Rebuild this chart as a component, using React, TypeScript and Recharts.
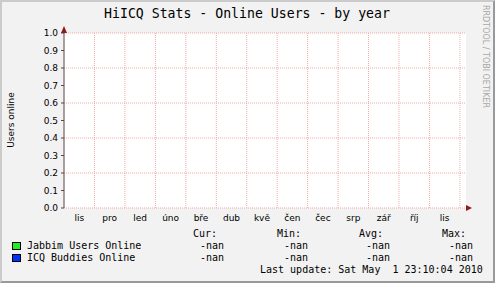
import { LineChart, Line, XAxis, YAxis, CartesianGrid, ReferenceLine } from 'recharts'

const monthLabels = ['lis', 'pro', 'led', 'úno', 'bře', 'dub', 'kvě', 'čen', 'čec', 'srp', 'zář', 'říj', 'lis']
const monthBounds = [1, 2, 3, 4, 5, 6, 7, 8, 9, 10, 11, 12, 13]
const yTicks = [0, 0.1, 0.2, 0.3, 0.4, 0.5, 0.6, 0.7, 0.8, 0.9, 1.0]

// no samples in the rrd -> every point is NaN
const jabbimUsers: (number | null)[] = [null, null, null, null, null, null, null, null, null, null, null, null, null]
const icqBuddies: (number | null)[] = [null, null, null, null, null, null, null, null, null, null, null, null, null]

const statHeaders = ['Cur:', 'Min:', 'Avg:', 'Max:']
const jabbimStats = ['-nan', '-nan', '-nan', '-nan']
const icqStats = ['-nan', '-nan', '-nan', '-nan']

const data = monthLabels.map((m, i) => ({
  x: i + 0.5,
  month: m,
  jabbim: jabbimUsers[i],
  icq: icqBuddies[i],
}))

const MONO = '"DejaVu Sans Mono", monospace'
const SANS = '"DejaVu Sans", sans-serif'
const GRID = '#f1a9a9'
const AXIS = '#5e4343'
const ARROW = '#8a1c1c'

const headerX = [193, 277, 359, 442]
const valueX = [200, 284, 366, 449]

const NoTick = () => <g />

export default function App() {
  return (
    <div
      style={{
        position: 'absolute',
        left: 0,
        top: 0,
        width: 495,
        height: 283,
        boxSizing: 'border-box',
        background: '#f2f2f2',
        borderLeft: '2px solid #cbcbcb',
        borderTop: '2px solid #cbcbcb',
        borderRight: '2px solid #999999',
        borderBottom: '2px solid #999999',
      }}
    >
      <div style={{ position: 'absolute', left: -2, top: -2 }}>
        <div style={{ position: 'absolute', left: 64, top: 33, width: 402, height: 175, background: '#fff' }} />
        <LineChart width={495} height={283} data={data} margin={{ top: 33, right: 29, bottom: 45, left: 4 }}>
          <CartesianGrid xAxisId="lbl" vertical={false} stroke={GRID} strokeDasharray="1 1" />
          {monthBounds.map(b => (
            <ReferenceLine key={b} xAxisId="lbl" x={b} stroke={GRID} strokeDasharray="1 1" />
          ))}
          <XAxis
            xAxisId="grid"
            dataKey="x"
            type="number"
            domain={[0, 13.2]}
            allowDataOverflow
            ticks={monthBounds}
            tick={NoTick}
            tickSize={2}
            tickLine={{ stroke: '#d87070' }}
            axisLine={{ stroke: AXIS }}
            height={0}
          />
          <XAxis
            xAxisId="lbl"
            dataKey="x"
            type="number"
            domain={[0, 13.2]}
            allowDataOverflow
            ticks={data.map(d => d.x)}
            tickFormatter={(v: number) => monthLabels[Math.floor(v)]}
            tick={{ fontSize: 9, fontFamily: SANS, fill: '#000' }}
            tickLine={false}
            axisLine={false}
            tickSize={0}
            tickMargin={7}
            height={30}
          />
          <YAxis
            type="number"
            domain={[0, 1]}
            allowDataOverflow
            ticks={yTicks}
            tickFormatter={(v: number) => v.toFixed(1)}
            tick={{ fontSize: 9, fontFamily: SANS, fill: '#000' }}
            tickSize={3}
            tickMargin={3}
            tickLine={{ stroke: AXIS }}
            axisLine={{ stroke: AXIS }}
            width={60}
          />
          <Line xAxisId="lbl" dataKey="jabbim" stroke="#00ff00" dot={false} isAnimationActive={false} />
          <Line xAxisId="lbl" dataKey="icq" stroke="#0000ff" dot={false} isAnimationActive={false} />
        </LineChart>
        <svg width={495} height={283} style={{ position: 'absolute', left: 0, top: 0, pointerEvents: 'none' }}>
          <polygon points="61,33 67,33 64,26" fill={ARROW} />
          <polygon points="466,205 466,211 472,208" fill={ARROW} />
          <text x={247} y={18} textAnchor="middle" fontFamily={MONO} fontSize={13.2} fill="#000">
            HiICQ Stats - Online Users - by year
          </text>
          <text x={14} y={120} transform="rotate(-90 14 120)" textAnchor="middle" fontFamily={SANS} fontSize={9} fill="#000">
            Users online
          </text>
          <text x={483} y={5} transform="rotate(90 483 5)" fontFamily={SANS} fontSize={8} fill="#a8a8a8">
            RRDTOOL / TOBI OETIKER
          </text>
          <g fontFamily={MONO} fontSize={10} fill="#000">
            {statHeaders.map((h, i) => (
              <text key={h} x={headerX[i]} y={237}>{h}</text>
            ))}
            <rect x={12.5} y={242.5} width={8} height={7} fill="#22ee22" stroke="#000" />
            <text x={27} y={249}>Jabbim Users Online</text>
            {jabbimStats.map((v, i) => (
              <text key={'j' + i} x={valueX[i]} y={249}>{v}</text>
            ))}
            <rect x={12.5} y={254.5} width={8} height={7} fill="#0033ff" stroke="#000" />
            <text x={27} y={261}>ICQ Buddies Online</text>
            {icqStats.map((v, i) => (
              <text key={'i' + i} x={valueX[i]} y={261}>{v}</text>
            ))}
            <text x={260} y={273} xmlSpace="preserve">Last update: Sat May  1 23:10:04 2010</text>
          </g>
        </svg>
      </div>
    </div>
  )
}
